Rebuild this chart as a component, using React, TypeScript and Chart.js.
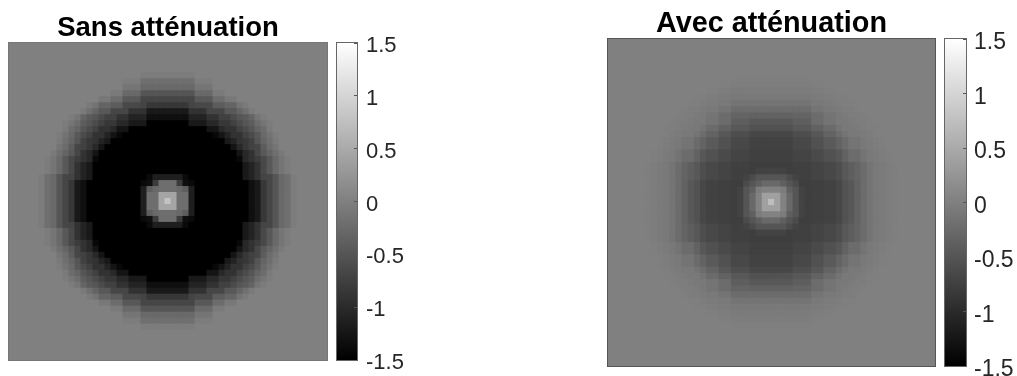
import React, { useEffect, useRef } from "react";
import { Chart, registerables } from "chart.js";

Chart.register(...registerables);

const colorTicks = [1.5, 1, 0.5, 0, -0.5, -1, -1.5];
const colorRange = [-1.5, 1.5];
const titles = ["Sans atténuation", "Avec atténuation"];

// Upper-left quadrant of each map, read cell by cell (row 26 / column 26 = centre of the 53x53 grid).
const sansRows = [
  [0,0,0,0,0,0,0,0,0,0,0,0,0,0,0,0,0,0,0,0,0,0,0,0,0,0,0],
  [0,0,0,0,0,0,0,0,0,0,0,0,0,0,0,0,0,0,0,0,0,0,0,0,0,0,0],
  [0,0,0,0,0,0,0,0,0,0,0,0,0,0,0,0,0,0,0,0,0,0,0,0,0,0,0],
  [0,0,0,0,0,0,0,0,0,0,0,0,0,0,0,0,0,0,0,0,0,0,0,0,0,0,0],
  [0,0,0,0,0,0,0,0,0,0,0,0,0,0,0,0,0,0,0,0,0,0,0,0,0,0,0],
  [0,0,0,0,0,0,0,0,0,0,0,0,0,0,0,0,0,0,0,0,0,0,-.04,-.04,-.04,-.04,-.04],
  [0,0,0,0,0,0,0,0,0,0,0,0,0,0,0,0,0,0,0,-.04,-.04,-.04,-.19,-.19,-.19,-.19,-.19],
  [0,0,0,0,0,0,0,0,0,0,0,0,0,0,0,0,0,0,0,-.12,-.12,-.12,-.26,-.26,-.26,-.26,-.26],
  [0,0,0,0,0,0,0,0,0,0,0,0,0,0,0,0,0,-.07,-.07,-.26,-.26,-.26,-.5,-.5,-.5,-.5,-.5],
  [0,0,0,0,0,0,0,0,0,0,0,0,0,0,0,-.09,-.09,-.23,-.23,-.46,-.46,-.46,-.68,-.68,-.68,-.68,-.68],
  [0,0,0,0,0,0,0,0,0,0,0,0,0,-.07,-.15,-.32,-.32,-.42,-.42,-.65,-.65,-.65,-.7,-.85,-.85,-.85,-.85],
  [0,0,0,0,0,0,0,0,0,0,0,0,-.07,-.19,-.32,-.46,-.46,-.68,-.68,-.68,-.91,-.91,-.91,-1.21,-1.21,-1.21,-1.21],
  [0,0,0,0,0,0,0,0,0,0,-.04,-.12,-.32,-.44,-.5,-.62,-.74,-.74,-.91,-.91,-1.09,-1.09,-1.09,-1.32,-1.32,-1.32,-1.32],
  [0,0,0,0,0,0,0,0,0,-.04,-.12,-.23,-.42,-.5,-.62,-.74,-.85,-.85,-1.03,-1.03,-1.21,-1.21,-1.21,-1.5,-1.5,-1.5,-1.5],
  [0,0,0,0,0,0,0,0,0,-.07,-.23,-.32,-.5,-.62,-.74,-.91,-.91,-1.03,-1.26,-1.26,-1.5,-1.5,-1.5,-1.5,-1.5,-1.5,-1.5],
  [0,0,0,0,0,0,0,0,-.04,-.15,-.26,-.46,-.62,-.74,-.91,-.91,-1.09,-1.26,-1.41,-1.5,-1.5,-1.5,-1.5,-1.5,-1.5,-1.5,-1.5],
  [0,0,0,0,0,0,0,0,-.07,-.19,-.32,-.5,-.74,-.85,-.91,-1.09,-1.21,-1.5,-1.5,-1.5,-1.5,-1.5,-1.5,-1.5,-1.5,-1.5,-1.5],
  [0,0,0,0,0,0,0,0,-.12,-.23,-.42,-.68,-.74,-.85,-1.03,-1.26,-1.5,-1.5,-1.5,-1.5,-1.5,-1.5,-1.5,-1.5,-1.5,-1.5,-1.5],
  [0,0,0,0,0,0,0,-.07,-.19,-.32,-.46,-.68,-.91,-1.03,-1.26,-1.5,-1.5,-1.5,-1.5,-1.5,-1.5,-1.5,-1.5,-1.5,-1.5,-1.5,-1.5],
  [0,0,0,0,0,0,-.04,-.12,-.26,-.46,-.65,-.79,-.91,-1.03,-1.41,-1.5,-1.5,-1.5,-1.5,-1.5,-1.5,-1.5,-1.5,-1.5,-1.5,-1.5,-1.5],
  [0,0,0,0,0,0,-.04,-.12,-.26,-.46,-.65,-.91,-1.09,-1.21,-1.5,-1.5,-1.5,-1.5,-1.5,-1.5,-1.5,-1.5,-1.5,-1.5,-1.5,-1.5,-1.5],
  [0,0,0,0,0,0,-.04,-.12,-.26,-.46,-.65,-.91,-1.09,-1.21,-1.5,-1.5,-1.5,-1.5,-1.5,-1.5,-1.5,-1.5,-1.5,-1.5,-1.5,-1.5,-1.5],
  [0,0,0,0,0,-.04,-.19,-.26,-.5,-.68,-.7,-.91,-1.09,-1.21,-1.5,-1.5,-1.5,-1.5,-1.5,-1.5,-1.5,-1.5,-1.5,-1.38,-1.15,-1.15,-1.15],
  [0,0,0,0,0,-.04,-.19,-.26,-.5,-.68,-.85,-1.21,-1.32,-1.5,-1.5,-1.5,-1.5,-1.5,-1.5,-1.5,-1.5,-1.5,-1.38,-1.32,-.79,-.21,-.21],
  [0,0,0,0,0,-.04,-.19,-.26,-.5,-.68,-.85,-1.21,-1.32,-1.5,-1.5,-1.5,-1.5,-1.5,-1.5,-1.5,-1.5,-1.5,-1.15,-.4,-.26,-.21,-.21],
  [0,0,0,0,0,-.04,-.19,-.26,-.5,-.68,-.85,-1.21,-1.32,-1.5,-1.5,-1.5,-1.5,-1.5,-1.5,-1.5,-1.5,-1.5,-1.15,-.21,-.21,.44,.44],
  [0,0,0,0,0,-.04,-.19,-.26,-.5,-.68,-.85,-1.21,-1.32,-1.5,-1.5,-1.5,-1.5,-1.5,-1.5,-1.5,-1.5,-1.5,-1.15,-.21,-.21,.44,.79],
];

const avecRows = [
  [0,0,0,0,0,0,0,0,0,0,0,0,0,0,0,0,0,0,0,0,0,0,0,0,0,0,0],
  [0,0,0,0,0,0,0,0,0,0,0,0,0,0,0,0,0,0,0,0,0,0,0,0,0,0,0],
  [0,0,0,0,0,0,0,0,0,0,0,0,0,0,0,0,0,0,0,0,0,0,0,0,0,0,0],
  [0,0,0,0,0,0,0,0,0,0,0,0,0,0,0,0,0,0,0,0,0,0,0,0,0,0,0],
  [0,0,0,0,0,0,0,0,0,0,0,0,0,0,0,0,0,0,0,0,0,0,0,0,0,0,0],
  [0,0,0,0,0,0,0,0,0,0,0,0,0,0,0,0,0,0,0,0,0,0,0,0,0,0,0],
  [0,0,0,0,0,0,0,0,0,0,0,0,0,0,0,0,0,0,0,0,-.01,-.01,-.01,-.01,-.01,-.01,-.01],
  [0,0,0,0,0,0,0,0,0,0,0,0,0,0,0,0,0,0,-.01,-.01,-.03,-.03,-.03,-.03,-.03,-.03,-.03],
  [0,0,0,0,0,0,0,0,0,0,0,0,0,0,0,0,-.01,-.01,-.03,-.03,-.05,-.05,-.05,-.05,-.05,-.05,-.05],
  [0,0,0,0,0,0,0,0,0,0,0,0,0,0,-.01,-.01,-.03,-.03,-.05,-.05,-.08,-.08,-.08,-.08,-.08,-.08,-.08],
  [0,0,0,0,0,0,0,0,0,0,0,0,0,-.01,-.01,-.03,-.05,-.05,-.08,-.08,-.14,-.14,-.14,-.14,-.14,-.14,-.14],
  [0,0,0,0,0,0,0,0,0,0,0,0,-.01,-.03,-.03,-.05,-.08,-.08,-.14,-.14,-.23,-.23,-.23,-.23,-.23,-.23,-.23],
  [0,0,0,0,0,0,0,0,0,0,0,-.01,-.03,-.03,-.05,-.08,-.14,-.14,-.23,-.23,-.32,-.32,-.32,-.35,-.35,-.35,-.35],
  [0,0,0,0,0,0,0,0,0,0,-.01,-.03,-.03,-.05,-.08,-.08,-.14,-.14,-.23,-.23,-.4,-.4,-.4,-.46,-.46,-.46,-.46],
  [0,0,0,0,0,0,0,0,0,-.01,-.01,-.03,-.05,-.08,-.08,-.14,-.24,-.24,-.35,-.35,-.47,-.47,-.47,-.54,-.54,-.54,-.54],
  [0,0,0,0,0,0,0,0,0,-.01,-.03,-.05,-.08,-.08,-.14,-.22,-.34,-.34,-.48,-.48,-.58,-.58,-.58,-.66,-.66,-.66,-.66],
  [0,0,0,0,0,0,0,0,-.01,-.03,-.05,-.08,-.14,-.14,-.24,-.34,-.44,-.44,-.55,-.55,-.65,-.65,-.65,-.72,-.72,-.72,-.72],
  [0,0,0,0,0,0,0,0,-.01,-.03,-.05,-.08,-.14,-.14,-.24,-.34,-.44,-.44,-.55,-.55,-.65,-.65,-.65,-.72,-.72,-.72,-.72],
  [0,0,0,0,0,0,0,-.01,-.03,-.05,-.08,-.14,-.23,-.23,-.35,-.48,-.55,-.55,-.63,-.63,-.7,-.7,-.7,-.75,-.75,-.75,-.75],
  [0,0,0,0,0,0,0,-.01,-.03,-.05,-.08,-.14,-.23,-.23,-.35,-.48,-.55,-.55,-.63,-.63,-.7,-.7,-.7,-.75,-.75,-.75,-.75],
  [0,0,0,0,0,0,-.01,-.03,-.05,-.08,-.14,-.23,-.32,-.4,-.47,-.58,-.65,-.65,-.7,-.7,-.75,-.75,-.75,-.77,-.77,-.77,-.77],
  [0,0,0,0,0,0,-.01,-.03,-.05,-.08,-.14,-.23,-.32,-.4,-.47,-.58,-.65,-.65,-.7,-.7,-.75,-.75,-.75,-.77,-.71,-.71,-.71],
  [0,0,0,0,0,0,-.01,-.03,-.05,-.08,-.14,-.23,-.32,-.4,-.47,-.58,-.65,-.65,-.7,-.7,-.75,-.75,-.71,-.62,-.5,-.5,-.5],
  [0,0,0,0,0,0,-.01,-.03,-.05,-.08,-.14,-.23,-.35,-.46,-.54,-.66,-.72,-.72,-.75,-.75,-.77,-.77,-.62,-.5,-.38,-.26,-.26],
  [0,0,0,0,0,0,-.01,-.03,-.05,-.08,-.14,-.23,-.35,-.46,-.54,-.66,-.72,-.72,-.75,-.75,-.77,-.71,-.5,-.38,-.04,.03,.03],
  [0,0,0,0,0,0,-.01,-.03,-.05,-.08,-.14,-.23,-.35,-.46,-.54,-.66,-.72,-.72,-.75,-.75,-.77,-.71,-.5,-.26,.03,.38,.38],
  [0,0,0,0,0,0,-.01,-.03,-.05,-.08,-.14,-.23,-.35,-.46,-.54,-.66,-.72,-.72,-.75,-.75,-.77,-.71,-.5,-.26,.03,.38,.74],
];

const grid = 53;
const grayOf = (v: number) => {
  const t = (Math.max(colorRange[0], Math.min(colorRange[1], v)) - colorRange[0]) / (colorRange[1] - colorRange[0]);
  const g = Math.round(t * 255);
  return `rgb(${g},${g},${g})`;
};

const toCells = (rows: number[][]) => {
  const cells: { x: number; y: number; v: number }[] = [];
  for (let r = 0; r < grid; r++) {
    for (let c = 0; c < grid; c++) {
      const rr = r < rows.length ? r : grid - 1 - r;
      const cc = c < rows.length ? c : grid - 1 - c;
      cells.push({ x: c, y: r, v: rows[rr][cc] });
    }
  }
  return cells;
};

const frame = (color: string) => ({
  id: "frame",
  afterDraw(chart: any) {
    const { ctx, chartArea: a } = chart;
    ctx.save();
    ctx.strokeStyle = color;
    ctx.lineWidth = 1;
    ctx.strokeRect(a.left - 0.5, a.top - 0.5, a.right - a.left + 1, a.bottom - a.top + 1);
    ctx.restore();
  },
});

const nudgeLabels = (dy: number) => ({
  id: "nudgeLabels",
  beforeDraw(chart: any) {
    const items = chart.scales.y.getLabelItems(chart.chartArea);
    items.forEach((item: any) => {
      item.textOffset += dy;
    });
  },
});

const abs = (left: number, top: number, width: number, height: number): React.CSSProperties => ({
  position: "absolute",
  left,
  top,
  width,
  height,
  display: "block",
});

function HeatMap(props: { rows: number[][]; title: string; left: number; top: number; width: number; height: number; titleSize: number; edge: string }) {
  const { rows, title, left, top, width, height, titleSize, edge } = props;
  const ref = useRef<HTMLCanvasElement>(null);
  useEffect(() => {
    const chart = new Chart(ref.current as HTMLCanvasElement, {
      type: "scatter",
      data: {
        datasets: [
          {
            data: toCells(rows) as any,
            pointStyle: "rect",
            pointBorderWidth: 0,
            pointBackgroundColor: (c: any) => grayOf(c.raw ? c.raw.v : 0),
            pointRadius: (c: any) => {
              const a = c.chart.chartArea;
              if (!a) return 4;
              return ((a.right - a.left) / grid + 1) / Math.SQRT2;
            },
          } as any,
        ],
      },
      options: {
        animation: false,
        responsive: false,
        events: [],
        layout: { padding: 1, autoPadding: false },
        scales: {
          x: { type: "linear", min: -0.5, max: grid - 0.5, display: false },
          y: { type: "linear", min: -0.5, max: grid - 0.5, reverse: true, display: false },
        },
        plugins: {
          legend: { display: false },
          tooltip: { enabled: false },
          title: {
            display: true,
            text: title,
            color: "#000",
            padding: 0,
            font: { family: "Liberation Sans", size: titleSize, weight: "bold", lineHeight: "30px" as any },
          },
        },
      },
      plugins: [frame(edge)],
    });
    return () => chart.destroy();
  }, []);
  return <canvas ref={ref} width={width} height={height} style={abs(left, top, width, height)} />;
}

function ColorBar(props: { left: number; top: number; width: number; height: number; axisWidth: number; fontSize: number; pad: number; labelShift: number }) {
  const { left, top, width, height, axisWidth, fontSize, pad, labelShift } = props;
  const ref = useRef<HTMLCanvasElement>(null);
  useEffect(() => {
    const chart = new Chart(ref.current as HTMLCanvasElement, {
      type: "bar",
      data: {
        labels: ["colormap"],
        datasets: [
          {
            data: [colorRange as any],
            barPercentage: 1,
            categoryPercentage: 1,
            borderWidth: 0,
            backgroundColor: (c: any) => {
              const a = c.chart.chartArea;
              if (!a) return "#808080";
              const g = c.chart.ctx.createLinearGradient(0, a.bottom, 0, a.top);
              g.addColorStop(0, "#000");
              g.addColorStop(1, "#fff");
              return g;
            },
          },
        ],
      },
      options: {
        animation: false,
        responsive: false,
        events: [],
        layout: { padding: { top: 20, bottom: 20, left: 1, right: 0 }, autoPadding: false },
        scales: {
          x: { display: false },
          y: {
            position: "right",
            min: colorRange[0],
            max: colorRange[1],
            afterFit: (s: any) => {
              s.width = axisWidth;
              s.paddingTop = 0;
              s.paddingBottom = 0;
            },
            afterBuildTicks: (s: any) => {
              s.ticks = colorTicks.map((value) => ({ value }));
            },
            ticks: {
              color: "#262626",
              padding: pad,
              autoSkip: false,
              maxRotation: 0,
              font: { family: "Liberation Sans", size: fontSize },
              callback: (v: any) => String(v),
            },
            grid: { drawOnChartArea: false, drawTicks: true, tickLength: -3, color: "#555", z: 1 } as any,
            border: { display: false },
          },
        },
        plugins: { legend: { display: false }, tooltip: { enabled: false }, title: { display: false } },
      },
      plugins: [frame("#666"), nudgeLabels(labelShift)],
    });
    return () => chart.destroy();
  }, []);
  return <canvas ref={ref} width={width} height={height} style={abs(left, top, width, height)} />;
}

export default function App() {
  return (
    <div style={{ position: "absolute", left: 0, top: 0, width: 1017, height: 376, background: "#fff", overflow: "hidden" }}>
      <HeatMap rows={sansRows} title={titles[0]} left={8} top={12} width={320} height={349} titleSize={27.5} edge="#777" />
      <ColorBar left={336} top={23} width={80} height={357} axisWidth={59} fontSize={22} pad={12} labelShift={3} />
      <HeatMap rows={avecRows} title={titles[1]} left={607} top={8} width={329} height={359} titleSize={28.8} edge="#555" />
      <ColorBar left={944} top={19} width={73} height={367} axisWidth={51} fontSize={23} pad={11} labelShift={4} />
    </div>
  );
}
